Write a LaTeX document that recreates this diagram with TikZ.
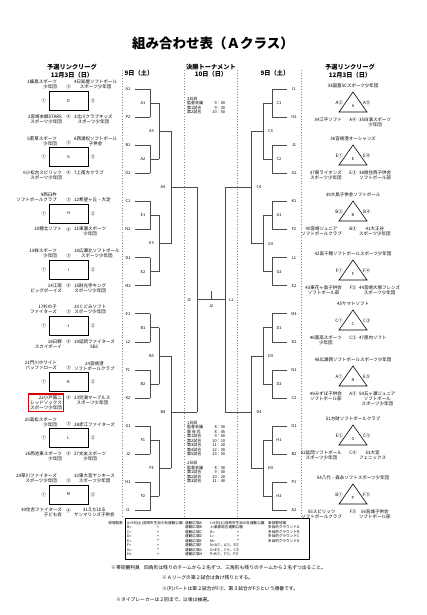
\documentclass[tikz,border=0pt]{standalone}
\usepackage{fontspec}
\setmainfont{Noto Sans CJK JP}
\usetikzlibrary{positioning,fit}
\newcommand\tline[2]{\hbox to 38pt{#1\hfill#2}}
\tikzset{
  ttl/.style={font=\fontsize{13.5}{15}\selectfont\bfseries,inner sep=0},
  hdr/.style={font=\fontsize{6.2}{7.2}\selectfont\bfseries,align=center,inner sep=0},
  team/.style={font=\fontsize{4.5}{5}\selectfont,align=center,inner sep=0},
  lbl/.style={font=\fontsize{4.5}{5}\selectfont,inner sep=0},
  leaf/.style={font=\fontsize{4}{4.5}\selectfont,inner sep=0},
  tblk/.style={font=\fontsize{4}{4.5}\selectfont,align=left,inner sep=0},
  ftxt/.style={font=\fontsize{3.6}{4}\selectfont,inner sep=0},
  lgbox/.style={draw,line width=0.6pt,minimum width=39pt,minimum height=19pt,inner sep=0,font=\fontsize{4}{4.5}\selectfont},
  tri/.style={draw,line width=0.6pt,line join=miter},
  brk/.style={draw=black!70,line width=0.8pt},
  sep/.style={draw=black!45,dotted,line width=0.7pt},
  note/.style={font=\fontsize{4.8}{5.5}\selectfont,anchor=west,inner sep=0},
  redmark/.style={draw=red!85!black,line width=1.3pt,inner sep=1.5pt}
}
\begin{document}
\begin{tikzpicture}[x=1pt,y=-1pt]
  \useasboundingbox (0,0) rectangle (427,615);
  \node[ttl] (title) at (213,43) {組み合わせ表（Ａクラス）};
  \node[hdr] (hdll) at (72,71) {予選リンクリーグ\\12月3日（日）};
  \node[hdr] (hdlb) at (139,73) {9日（土）};
  \node[hdr] (hdfn) at (211,71) {決勝トーナメント\\10日（日）};
  \node[hdr] (hdrb) at (275,73) {9日（土）};
  \node[hdr] (hdrl) at (350,71) {予選リンクリーグ\\12月3日（日）};

  % dotted column lines
  \foreach \x in {122,184,237,301}
    \draw[sep] (\x,70) -- (\x,518);

  % square leagues (left)
  \foreach \cy/\lg/\ta/\tb/\ba/\bb in {
    101/D/{1細島スポーツ\\少年団}/{4日知屋ソフトボール\\スポーツ少年団}/{2宮崎本郷STARS\\スポーツ少年団}/{3北川クラブキッズ\\スポーツ少年団},
    157.2/G/{5若草スポーツ\\少年団}/{8西浦松ソフトボール\\子供会}/{6小松台スピリッツ\\スポーツ少年団}/{7上南方クラブ},
    213.4/H/{9西臼杵\\ソフトボールクラブ}/{12希望ヶ丘・大淀}/{10穂北ソフト}/{11東瀬スポーツ\\少年団},
    269.6/I/{13祥スポーツ\\少年団}/{16広瀬北ソフトボール\\スポーツ少年団}/{14江南\\ビッグボーイズ}/{15財光寺キング\\スポーツ少年団},
    325.8/J/{17杉の子\\ファイターズ}/{20くどみソフト\\スポーツ少年団}/{18日野\\スカイボーイ}/{19延岡ファイターズ\\SBC},
    382/K/{21門川ホワイト\\バッファローズ}/{24宮崎港\\ソフトボールクラブ}/{22小戸第二\\レッドソックス\\スポーツ少年団}/{23児湯マーブルス\\スポーツ少年団},
    438.2/L/{25高松スポーツ\\少年団}/{28赤江ファイターズ}/{26西池東スポーツ\\少年団}/{27文友スポーツ\\少年団},
    494.4/M/{29草川ファイターズ\\スポーツ少年団}/{32東大宮ヤンキース\\スポーツ少年団}/{30住吉ファイターズ\\子ども会}/{31えだはる\\サンマリンズ子供会}}{
    \node[lgbox] (lg\lg) at (68.5,\cy) {\lg};
    \node[lbl,left=2.5pt of lg\lg] (lg\lg-1) {①};
    \node[lbl,right=2pt of lg\lg] (lg\lg-2) {②};
    \node[lbl] (lg\lg-3) at (68.5,{\cy-14}) {③};
    \node[lbl] (lg\lg-4) at (68.5,{\cy+16}) {④};
    \node[team,anchor=south east,align=right] (lg\lg-tl) at (57,{\cy-11.5}) {\ta};
    \node[team,anchor=south west] (lg\lg-tr) at (74,{\cy-11.5}) {\tb};
    \node[team,anchor=north east,align=right] (lg\lg-bl) at (62,{\cy+13.5}) {\ba};
    \node[team,anchor=north west] (lg\lg-br) at (74,{\cy+13.5}) {\bb};
  }
  \node[redmark,fit=(lgK-bl)] (mark) {};

  % triangle leagues (right)
  \foreach \tc/\lg/\sx/\sy/\sz/\nt/\na/\nb in {
    102/A/A②/A⑤/A④/{33国富SCスポーツ少年団}/{34江平ソフト}/{35白濱スポーツ\\少年団},
    155/E/E①/E④/E③/{36宮崎港オーシャンズ}/{37東ライオンズ\\スポーツ少年団}/{38県住西子供会\\ソフトボール部},
    211/B/B②/B④/B③/{39大島子供会ソフトボール}/{40宮崎ジュニア\\ソフトボールクラブ}/{41大王谷\\スポーツ少年団},
    270/F/F①/F④/F②/{42高千穂ソフトボールスポーツ少年団}/{43東花ヶ島子供会\\ソフトボール部}/{44宮崎大塚フレンズ\\スポーツ少年団},
    320/C/C①/C③/C②/{45ヤマトソフト}/{46富高スポーツ\\少年団}/{47恵内ソフト},
    376/N/A①/E⑤/A③/{48広瀬西ソフトボールスポーツ少年団}/{49みずほ子供会\\ソフトボール部}/{50五ヶ瀬ジュニア\\ソフトボール\\スポーツ少年団},
    435/O/E②/C⑤/C④/{51方財ソフトボールクラブ}/{52延岡ソフトボール\\スポーツ少年団}/{53大宮\\フェニックス},
    494/P/B①/F⑤/F③/{54八代・森永ソフトスポーツ少年団}/{55スピリッツ\\ソフトボールクラブ}/{56吾城子供会\\ソフトボール部}}{
    \draw[tri] (353,{\tc-10}) -- (339,{\tc+10}) -- (367,{\tc+10}) -- cycle;
    \node[leaf] (tr\lg) at (353,{\tc+4}) {\lg};
    \node[lbl,anchor=east] (tr\lg-l) at (343,{\tc+1}) {\sx};
    \node[lbl,anchor=west] (tr\lg-r) at (363,{\tc+1}) {\sy};
    \node[lbl] (tr\lg-b) at (353,{\tc+18}) {\sz};
    \node[team] (tr\lg-t) at (353,{\tc-16.5}) {\nt};
    \node[team,anchor=north east] (tr\lg-bl) at (342,{\tc+15.5}) {\na};
    \node[team,anchor=north west] (tr\lg-br) at (359,{\tc+15.5}) {\nb};
  }

  % brackets, both halves
  \foreach \sg/\sd/\lv/\ma/\mb/\mc in {
    1/l/{A1,P2,B1,O2,C1,N2,D1,M2,E1,L2,F1,K2,G1,J2,H1,I2}/{A1,A2,E1,E2,B1,B2,F1,F2}/{A3,E3,B3,F3}/{A4,B4},
    -1/r/{I1,H2,J1,G2,K1,F2,L1,E2,M1,D2,N1,C2,O1,B2,P1,A2}/{C1,C2,G1,G2,D1,D2,H1,H2}/{C3,G3,D3,H3}/{C4,D4}}{
    \foreach \l [count=\i from 0] in \lv {
      \node[leaf] (\sd\l) at ({211-(\sg)*83},{89+\i*28.1}) {\l};
      \draw[brk] ({211-(\sg)*76},{89+\i*28.1}) -- ({211-(\sg)*61},{89+\i*28.1});
    }
    \foreach \m [count=\k from 0] in \ma {
      \draw[brk] ({211-(\sg)*61},{89+2*\k*28.1}) -- ({211-(\sg)*61},{117.1+2*\k*28.1})
        ({211-(\sg)*61},{103.05+2*\k*28.1}) -- ({211-(\sg)*52},{103.05+2*\k*28.1});
      \node[leaf] (\sd m\m) at ({211-(\sg)*68},{103.05+2*\k*28.1}) {\m};
    }
    \foreach \m [count=\k from 0] in \mb {
      \draw[brk] ({211-(\sg)*52},{103.05+4*\k*28.1}) -- ({211-(\sg)*52},{159.25+4*\k*28.1})
        ({211-(\sg)*52},{131.15+4*\k*28.1}) -- ({211-(\sg)*40},{131.15+4*\k*28.1});
      \node[leaf] (\sd m\m) at ({211-(\sg)*59.5},{131.15+4*\k*28.1}) {\m};
    }
    \foreach \m [count=\k from 0] in \mc {
      \draw[brk] ({211-(\sg)*40},{131.15+8*\k*28.1}) -- ({211-(\sg)*40},{243.55+8*\k*28.1})
        ({211-(\sg)*40},{187.35+8*\k*28.1}) -- ({211-(\sg)*14},{187.35+8*\k*28.1});
      \node[leaf] (\sd m\m) at ({211-(\sg)*48},{187.35+8*\k*28.1}) {\m};
    }
    \draw[brk] ({211-(\sg)*14},187.35) -- ({211-(\sg)*14},412.15);
  }
  % final
  \draw[brk] (197,299.75) -- (225,299.75) (211,290.75) -- (211,299.75);
  \node[leaf] (fJ1) at (189,299.75) {J1};
  \node[leaf] (fJ2) at (211,306) {J2};
  \node[leaf] (fL1) at (231.5,299.75) {L1};

  % timetables
  \node[tblk,anchor=north west] (day3) at (187,96.8) {3日目\\\tline{監督会議}{9：00}\\\tline{第1試合}{9：30}\\\tline{第2試合}{10：50}};
  \node[tblk,anchor=north west] (day12) at (187,420.8) {1日目\\\tline{監督会議}{8：30}\\\tline{開\,会\,式}{8：45}\\\tline{第1試合}{9：00}\\\tline{第2試合}{10：10}\\\tline{第3試合}{11：20}\\\tline{第4試合}{12：30}\\\tline{第5試合}{13：50}\\[4.5pt]2日目\\\tline{監督会議}{8：30}\\\tline{第1試合}{9：00}\\\tline{第2試合}{10：20}\\\tline{第3試合}{11：40}};

  % ground table
  \node[draw,line width=0.7pt,minimum width=184pt,minimum height=41pt,anchor=north west,inner sep=0] (fields) at (125,518) {};
  \node[ftxt,anchor=east] (fieldsttl) at (123,523) {球場割表};
  \foreach \fa/\fb/\fc/\fd/\fe/\ff [count=\r from 0] in {
    {A=9日(土)宮崎市生目の杜運動公園}/{}/{運動広場A}/{I=9日(土)宮崎市生目の杜運動公園}/{}/{東部野球場},
    {B=}/{〃}/{運動広場B}/{J=東部総合運動公園}/{}/{多目的グラウンドA},
    {C=}/{〃}/{運動広場C}/{K=}/{〃}/{多目的グラウンドB},
    {D=}/{〃}/{運動広場D}/{L=}/{〃}/{多目的グラウンドC},
    {E=}/{〃}/{運動広場E}/{M=}/{〃}/{多目的グラウンドD},
    {F=}/{〃}/{運動広場F}/{N=A①、A③、E⑤}/{}/{},
    {G=}/{〃}/{運動広場G}/{O=E②、C④、C⑤}/{}/{},
    {H=}/{〃}/{運動広場H}/{P=B①、F③、F⑤}/{}/{}}{
    \node[ftxt,anchor=west] (fa\r) at (127,{523+\r*4.45}) {\fa};
    \node[ftxt] (fb\r) at (158,{523+\r*4.45}) {\fb};
    \node[ftxt,anchor=west] (fc\r) at (185,{523+\r*4.45}) {\fc};
    \node[ftxt,anchor=west] (fd\r) at (210,{523+\r*4.45}) {\fd};
    \node[ftxt] (fe\r) at (238,{523+\r*4.45}) {\fe};
    \node[ftxt,anchor=west] (ff\r) at (268,{523+\r*4.45}) {\ff};
  }

  % notes
  \node[note] (note1) at (111,568) {※帯同審判員\hspace{4pt}四角形は残りのチームから２名ずつ、三角形も残りのチームから２名ずつ出ること。};
  \node[note] (note2) at (162,578) {※Ａリーグの第２試合は負け残りとする。};
  \node[note] (note3) at (162,589) {※(P)パートは第２試合がF③、第３試合がF⑤という順番です。};
  \node[note] (note4) at (116,600) {※タイブレーカーは２回まで、以後は抽選。};
\end{tikzpicture}
\end{document}
